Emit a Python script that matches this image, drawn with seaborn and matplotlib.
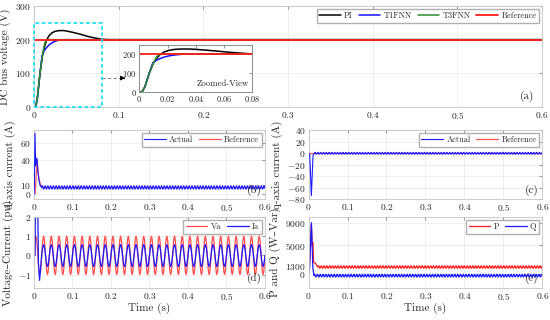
import numpy as np
import matplotlib
matplotlib.use('Agg')
import matplotlib.pyplot as plt
import seaborn as sns

# (a) DC bus voltage (V)
pi_t = [0, 0.002, 0.004, 0.007, 0.0099, 0.0122, 0.0145, 0.0175, 0.021, 0.025, 0.03, 0.035,
        0.04, 0.047, 0.055, 0.063, 0.07, 0.08, 0.09, 0.1, 0.6]
pi_v = [0, 0, 27, 98, 151, 177, 196, 211, 220, 225, 227, 227,
        225, 221, 216, 210, 206, 201, 200, 200, 200]
t1_t = [0, 0.002, 0.004, 0.007, 0.0095, 0.012, 0.015, 0.018, 0.022, 0.026, 0.03, 0.035, 0.6]
t1_v = [0, 0, 27, 98, 152, 167, 177, 185, 192, 196, 199, 200, 200]
t3_t = [0, 0.002, 0.004, 0.007, 0.0099, 0.0115, 0.013, 0.015, 0.6]
t3_v = [0, 0, 27, 98, 151, 175, 192, 200, 200]
ref_t = [0, 0.6]
ref_v = [200, 200]

# (b) d-axis current (A)
id_ref_t = [0, 0.003, 0.008, 0.0115, 0.015, 0.02, 0.6]
id_ref_v = [0, 0, 40, 22, 14, 7.5, 7.5]
id_t = [0, 0.001, 0.0026, 0.0045, 0.0077, 0.0105, 0.013, 0.016, 0.02]
id_v = [0, 10, 71, 33, 42, 25, 15, 10, 8]
id_ripple = [7.5, 8.8, 9.6, 9.0, 7.8, 6.5, 5.6, 5.8, 6.6]

# (c) q-axis current (A)
iq_ref_t = [0, 0.6]
iq_ref_v = [0, 0]
iq_t = [0, 0.003, 0.0072, 0.0115, 0.015]
iq_v = [0, -2, -74, -4, -1]
iq_ripple = [-0.5, 0.6, 1.2, 0.7, -0.3, -1.3, -2.0, -1.8, -1.1]

# (d) voltage / current (pu), one 50 Hz cycle sampled 12 times
va_cycle = [0, 0.5, 0.87, 1.0, 0.87, 0.5, 0, -0.5, -0.87, -1.0, -0.87, -0.5]
ia_t = [0, 0.003, 0.0035, 0.0095, 0.0115, 0.0145, 0.0175, 0.02]
ia_v = [0, 0, 3, 3, -0.4, -1.3, -0.6, 0]
ia_cycle = [0, 0.28, 0.48, 0.56, 0.48, 0.28, 0, -0.28, -0.5, -0.58, -0.5, -0.28]

# (e) active / reactive power (W, Var)
p_t = [0, 0.002, 0.007, 0.0095, 0.011, 0.013, 0.018, 0.024]
p_v = [0, 500, 8700, 4800, 5500, 2000, 1800, 1200]
p_ripple = [1200, 1320, 1420, 1340, 1200, 1060, 980, 1010, 1100]
q_t = [0, 0.002, 0.0075, 0.011, 0.014]
q_v = [0, 300, 9000, 1000, -300]
q_ripple = [-300, -180, -80, -150, -300, -450, -560, -540, -430]

time_ticks = [0, 0.1, 0.2, 0.3, 0.4, 0.5, 0.6]


def with_steady(t, v, pattern, dt, t_end=0.6):
    # transient points followed by the repeated steady-state pattern
    n = int(round((t_end - t[-1]) / dt))
    ts = t[-1] + dt * np.arange(n + 1)
    vs = np.resize(pattern, n + 1)
    return np.concatenate([t[:-1], ts]), np.concatenate([v[:-1], vs])


sns.set_style('whitegrid')
plt.rcParams['font.family'] = ['cmr10', 'DejaVu Serif']
plt.rcParams['mathtext.fontset'] = 'cm'
plt.rcParams['axes.unicode_minus'] = False

fig = plt.figure(figsize=(5.5, 3.2), dpi=100)
ax_a = fig.add_axes([0.0618, 0.6656, 0.924, 0.3156])
ax_b = fig.add_axes([0.0618, 0.378, 0.42, 0.2156])
ax_c = fig.add_axes([0.561, 0.378, 0.425, 0.2156])
ax_d = fig.add_axes([0.0618, 0.10, 0.42, 0.222])
ax_e = fig.add_axes([0.561, 0.10, 0.425, 0.222])
ax_in = fig.add_axes([0.2533, 0.7134, 0.2055, 0.147])


def fmt(vals):
    return [f'${v:g}$' for v in vals]


def style(ax, yt, ylim, ylabel, tag):
    ax.set_xlim(0, 0.6)
    ax.set_ylim(*ylim)
    ax.set_xticks(time_ticks)
    ax.set_xticklabels(fmt(time_ticks))
    ax.set_yticks(yt)
    ax.set_yticklabels(fmt(yt))
    ax.tick_params(direction='in', length=2, top=True, right=True, labelsize=6.8, pad=2,
                   color='#999999')
    for s in ax.spines.values():
        s.set_color('#c4c4c4')
        s.set_linewidth(0.6)
    ax.grid(True, color='#e8e8e8', lw=0.5)
    ax.set_xlabel('')
    ax.set_ylabel(ylabel, fontsize=8, labelpad=3)
    ax.text(0.985, 0.05, tag, transform=ax.transAxes, ha='right', va='bottom', fontsize=8)


def legend(ax, ncol):
    ax.legend(loc='upper right', ncol=ncol, fontsize=6, frameon=True, fancybox=False,
              edgecolor='#b0b0b0', framealpha=1, handlelength=2.6, borderpad=0.3,
              columnspacing=0.7, handletextpad=0.4, borderaxespad=0.4)


# (a) main plot and zoomed inset
for ax in (ax_a, ax_in):
    lab = ax is ax_a
    sns.lineplot(x=pi_t, y=pi_v, ax=ax, color='black', lw=1.1, label='PI' if lab else None)
    sns.lineplot(x=t1_t, y=t1_v, ax=ax, color='#1010ff', lw=1.1, label='T1FNN' if lab else None)
    sns.lineplot(x=t3_t, y=t3_v, ax=ax, color='#2e8b2e', lw=1.1, label='T3FNN' if lab else None)
    sns.lineplot(x=ref_t, y=ref_v, ax=ax, color='#ff1a1a', lw=1.3, label='Reference' if lab else None)
style(ax_a, [0, 100, 200, 300], (0, 300), 'DC bus voltage (V)', '(a)')
legend(ax_a, 4)

zoom_t, zoom_v = 0.08, 250
ax_a.add_patch(plt.Rectangle((0, 0), zoom_t, zoom_v, fill=False, ec='#22e0f0', lw=1.3, ls=(0, (2, 1.5)),
                             zorder=5, clip_on=False))
ax_a.plot([zoom_t, 0.104], [86, 86], color='#888888', lw=0.8, ls=(0, (3, 2)))
ax_a.annotate('', xy=(0.111, 86), xytext=(0.103, 86),
              arrowprops=dict(arrowstyle='-|>', color='black', lw=0.6, mutation_scale=7))

ax_in.set_xlim(0, 0.08)
ax_in.set_ylim(0, 250)
xt_in = [0, 0.02, 0.04, 0.06, 0.08]
ax_in.set_xticks(xt_in)
ax_in.set_xticklabels(fmt(xt_in))
ax_in.set_yticks([0, 100, 200])
ax_in.set_yticklabels(fmt([0, 100, 200]))
ax_in.tick_params(direction='in', length=2, top=True, right=True, labelsize=6, pad=2, color='#999999')
ax_in.grid(False)
for s in ax_in.spines.values():
    s.set_color('#8c8c8c')
    s.set_linewidth(0.7)
ax_in.text(0.97, 0.08, 'Zoomed-View', transform=ax_in.transAxes, ha='right', va='bottom', fontsize=6.3)

# (b)
t, v = with_steady(id_t, id_v, id_ripple, 0.0008)
sns.lineplot(x=t, y=v, ax=ax_b, color='#1a1aff', lw=0.8, label='Actual', zorder=3)
sns.lineplot(x=id_ref_t, y=id_ref_v, ax=ax_b, color='#ff5555', lw=0.9, label='Reference', zorder=2)
style(ax_b, [0, 10, 40, 60], (-6, 75), 'd-axis current (A)', '(b)')
legend(ax_b, 2)

# (c)
t, v = with_steady(iq_t, iq_v, iq_ripple, 0.0008)
sns.lineplot(x=t, y=v, ax=ax_c, color='#1a1aff', lw=0.8, label='Actual', zorder=3)
sns.lineplot(x=iq_ref_t, y=iq_ref_v, ax=ax_c, color='#ff5555', lw=0.9, label='Reference', zorder=2)
style(ax_c, [-80, -60, -40, -20, 0, 20, 40], (-80, 40), 'q-axis current (A)', '(c)')
legend(ax_c, 2)

# (d)
dt_ac = 0.02 / len(va_cycle)
n_ac = int(round(0.6 / dt_ac))
va_t = dt_ac * np.arange(n_ac + 1)
va_v = np.resize(va_cycle, n_ac + 1)
t, v = with_steady(ia_t, ia_v, ia_cycle, dt_ac)
sns.lineplot(x=va_t, y=va_v, ax=ax_d, color='#ff4d4d', lw=0.9, label='Va')
sns.lineplot(x=t, y=v, ax=ax_d, color='#1a1aff', lw=0.9, label='Ia')
style(ax_d, [-1, 0, 1, 2], (-1.7, 2), 'Voltage–Current (pu)', '(d)')
ax_d.set_xlabel('Time (s)', fontsize=8, labelpad=1)
legend(ax_d, 2)

# (e)
t, v = with_steady(p_t, p_v, p_ripple, 0.0008)
sns.lineplot(x=t, y=v, ax=ax_e, color='#ff1a1a', lw=0.9, label='P')
t, v = with_steady(q_t, q_v, q_ripple, 0.0008)
sns.lineplot(x=t, y=v, ax=ax_e, color='#1a1aff', lw=0.9, label='Q')
style(ax_e, [0, 1300, 5000, 9000], (-2500, 10000), 'P and Q (W–Var)', '(e)')
ax_e.set_xlabel('Time (s)', fontsize=8, labelpad=1)
legend(ax_e, 2)

fig.savefig('out.png', dpi=100)
